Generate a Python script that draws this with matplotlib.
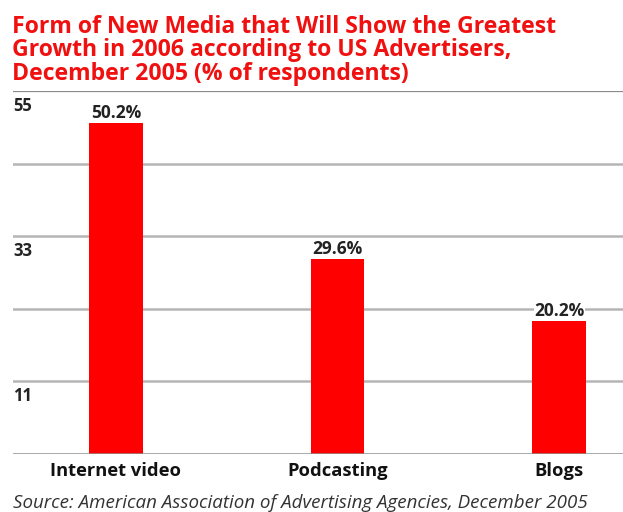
import matplotlib
matplotlib.use("Agg")
import matplotlib.pyplot as plt

categories = ["Internet video", "Podcasting", "Blogs"]
values = [50.2, 29.6, 20.2]
value_labels = ["50.2%", "29.6%", "20.2%"]
grid_ticks = [0, 11, 22, 33, 44, 55]
shown_ticks = [11, 33, 55]
title_lines = ["Form of New Media that Will Show the Greatest",
               "Growth in 2006 according to US Advertisers,",
               "December 2005 (% of respondents)"]
source = "Source: American Association of Advertising Agencies, December 2005"

W, H = 623, 512
fig = plt.figure(figsize=(W / 100, H / 100), dpi=100)
fig.patch.set_facecolor("white")

left, right, top, bottom = 13, 623, 91, 454
ax = fig.add_axes([left / W, 1 - bottom / H, (right - left) / W, (bottom - top) / H])
ax.set_ylim(0, 55)
ax.set_xlim(-0.464, 2.288)

for t in grid_ticks:
    if t == 55:
        ax.axhline(t, color="#8a8a8a", lw=1.6, zorder=0)
    elif t == 0:
        ax.axhline(t, color="#909090", lw=1.8, zorder=3)
    else:
        ax.axhline(t, color="#b5b5b5", lw=1.8, zorder=0)

x = list(range(len(categories)))
ax.bar(x, values, width=0.243, color="#ff0000", zorder=2)

for xi, v, lab in zip(x, values, value_labels):
    ax.annotate(lab, (xi, v), xytext=(0, 3.6), textcoords="offset points",
                ha="center", va="baseline", fontsize=12.5, fontweight="bold",
                family="Open Sans", color="#222222", zorder=4,
                bbox=dict(facecolor="white", edgecolor="none", pad=0.3))

for t in shown_ticks:
    ax.annotate(str(t), (0, t), xycoords=("axes fraction", "data"),
                xytext=(0, -4), textcoords="offset points",
                ha="left", va="top", fontsize=12, fontweight="bold",
                family="Open Sans", color="#222222")

ax.set_yticks([])
ax.set_xticks(x)
ax.set_xticklabels(categories, fontsize=13.2, fontweight="bold", family="Open Sans", color="#111111")
ax.tick_params(axis="x", length=0, pad=6)
for s in ax.spines.values():
    s.set_visible(False)

baselines = [33, 56.5, 80]
for line, b in zip(title_lines, baselines):
    fig.text(12 / W, 1 - b / H, line, ha="left", va="baseline", color="#f01010",
             fontsize=16.6, fontweight="bold", family="Open Sans")
fig.text(13 / W, 1 - 508 / H, source, ha="left", va="baseline", color="#333333",
         fontsize=13.5, style="italic", family="Open Sans")

fig.savefig("out.png", dpi=100, facecolor="white")
